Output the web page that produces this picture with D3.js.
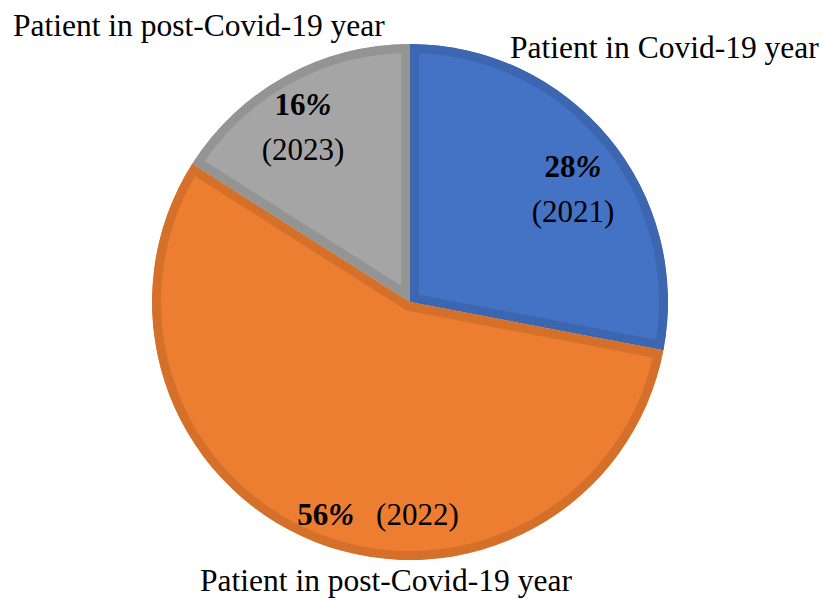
<!DOCTYPE html>
<html>
<head>
<meta charset="utf-8">
<script src="https://cdn.jsdelivr.net/npm/d3@7"></script>
<style>
  body { margin: 0; background: #fff; }
  text { font-family: "Liberation Serif", "Times New Roman", serif; fill: #000; }
</style>
</head>
<body>
<svg width="827" height="600"></svg>
<script>
var years = ["2021", "2022", "2023"];
var shares = [28, 56, 16];
var names = ["Patient in Covid-19 year", "Patient in post-Covid-19 year", "Patient in post-Covid-19 year"];
var fills = ["#4472C4", "#ED7D31", "#A5A5A5"];
var borders = ["#3D66B1", "#D5702B", "#949494"];

var width = 827, height = 600,
    cx = 410, cy = 302, radius = 258;

var svg = d3.select("svg");
var g = svg.append("g").attr("transform", "translate(" + cx + "," + cy + ")");

var pie = d3.pie().sort(null).value(function(d) { return d; });
var arc = d3.arc().innerRadius(0).outerRadius(radius);
var arcs = pie(shares);

var defs = svg.append("defs");
arcs.forEach(function(d, i) {
  defs.append("clipPath").attr("id", "clip" + i)
    .append("path").attr("d", arc(d));
});

// slices, border only on the inside (clipped)
g.selectAll(".slice")
    .data(arcs)
  .enter().append("path")
    .attr("class", "slice")
    .attr("d", arc)
    .attr("clip-path", function(d, i) { return "url(#clip" + i + ")"; })
    .style("fill", function(d, i) { return fills[i]; })
    .style("stroke", function(d, i) { return borders[i]; })
    .style("stroke-width", 18)
    .style("stroke-linejoin", "miter");

// value label offsets from the centre
var labelPos = [
  {x: 163, y: -125, inline: false},
  {x: -32, y: 223, inline: true},
  {x: -107, y: -187, inline: false}
];
var fs = "31px";

arcs.forEach(function(d, i) {
  var p = labelPos[i];
  if (p.inline) {
    var t = g.append("text").attr("x", p.x).attr("y", p.y)
      .attr("text-anchor", "middle").style("font-size", fs);
    var pct = t.append("tspan").style("font-weight", "bold");
    pct.append("tspan").text(shares[i]);
    pct.append("tspan").style("font-style", "italic").text("%");
    t.append("tspan").attr("dx", 22).text("(" + years[i] + ")");
  } else {
    var t1 = g.append("text").attr("x", p.x).attr("y", p.y)
      .attr("text-anchor", "middle").style("font-size", fs).style("font-weight", "bold");
    t1.append("tspan").text(shares[i]);
    t1.append("tspan").style("font-style", "italic").text("%");
    g.append("text").attr("x", p.x).attr("y", p.y + 45)
      .attr("text-anchor", "middle").style("font-size", fs)
      .text("(" + years[i] + ")");
  }
});

// category labels outside the pie
var namePos = [
  {x: 510, y: 58, anchor: "start"},
  {x: 386, y: 591, anchor: "middle"},
  {x: 13, y: 36, anchor: "start"}
];
names.forEach(function(n, i) {
  svg.append("text")
    .attr("x", namePos[i].x)
    .attr("y", namePos[i].y)
    .attr("text-anchor", namePos[i].anchor)
    .style("font-size", "31.5px")
    .text(n);
});
</script>
</body>
</html>
